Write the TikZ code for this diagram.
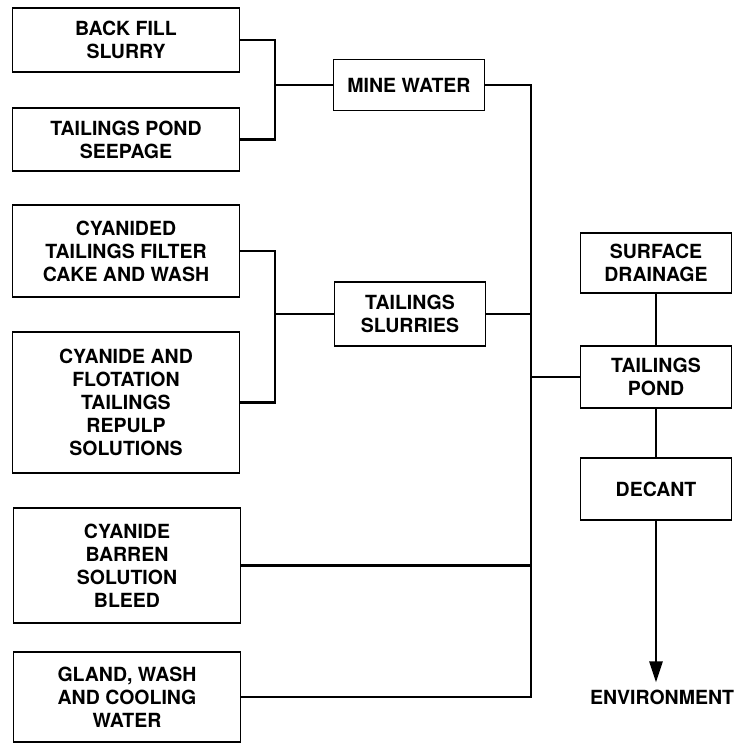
\documentclass[tikz,border=0pt]{standalone}
\usepackage{fontspec}
\setmainfont{TeX Gyre Heros}
\usetikzlibrary{arrows.meta, positioning, calc}

\begin{document}
\begin{tikzpicture}[x=1pt, y=-1pt, >={Triangle[length=21pt, width=13pt]},
  srcbox/.style={draw, line width=1.6pt, minimum width=227pt, inner sep=0pt,
    align=center, font=\bfseries\fontsize{19.5}{23}\selectfont},
  midbox/.style={srcbox, minimum width=151pt},
  flow/.style={line width=2.6pt}]
  \useasboundingbox (0,0) rectangle (734,745);
  % sources
  \node[srcbox, minimum height=64pt] (bfs) at (126,40) {BACK FILL\\SLURRY};
  \node[srcbox, minimum height=63pt] (tps) at (126,139.5) {TAILINGS POND\\SEEPAGE};
  \node[srcbox, minimum height=92pt] (ctf) at (126,251) {CYANIDED\\TAILINGS FILTER\\CAKE AND WASH};
  \node[srcbox, minimum height=141pt] (cft) at (126,402.5) {CYANIDE AND\\FLOTATION\\TAILINGS\\REPULP\\SOLUTIONS};
  \node[srcbox, minimum height=115pt] (cbs) at (127,565.5) {CYANIDE\\BARREN\\SOLUTION\\BLEED};
  \node[srcbox, minimum height=90pt] (gwc) at (127,697) {GLAND, WASH\\AND COOLING\\WATER};
  % collected streams
  \node[midbox, minimum height=51pt] (mw) at (409,85) {MINE WATER};
  \node[midbox, minimum height=64pt] (ts) at (410,314) {TAILINGS\\SLURRIES};
  % pond
  \node[midbox, minimum height=60pt] (sd) at (656,263) {SURFACE\\DRAINAGE};
  \node[midbox, minimum height=62pt] (tp) at (656,377) {TAILINGS\\POND};
  \node[midbox, minimum height=62pt] (dec) at (656,489) {DECANT};
  \node[font=\bfseries\fontsize{19.5}{23}\selectfont, inner sep=0pt] (env) at (662,697) {ENVIRONMENT};
  % junctions
  \coordinate (j1) at (275,85);
  \coordinate (j2) at (275,314);
  \coordinate (bus) at (531,697);
  \draw[flow] (bfs.east) -| (j1) |- (tps.east);
  \draw[flow] (j1) -- (mw.west);
  \draw[flow] (ctf.east) -| (j2) |- (cft.east);
  \draw[flow] (j2) -- (ts.west);
  \draw[flow] (mw.east) -| (bus) -- (gwc.east);
  \draw[flow] (ts.east) -- (ts.east -| bus);
  \draw[flow] (cbs.east) -- (cbs.east -| bus);
  \draw[flow] (tp.west -| bus) -- (tp.west);
  \draw[flow] (sd) -- (tp);
  \draw[flow] (tp) -- (dec);
  \draw[flow, ->, shorten >=7pt] (dec) -- (dec |- env.north);
\end{tikzpicture}
\end{document}
